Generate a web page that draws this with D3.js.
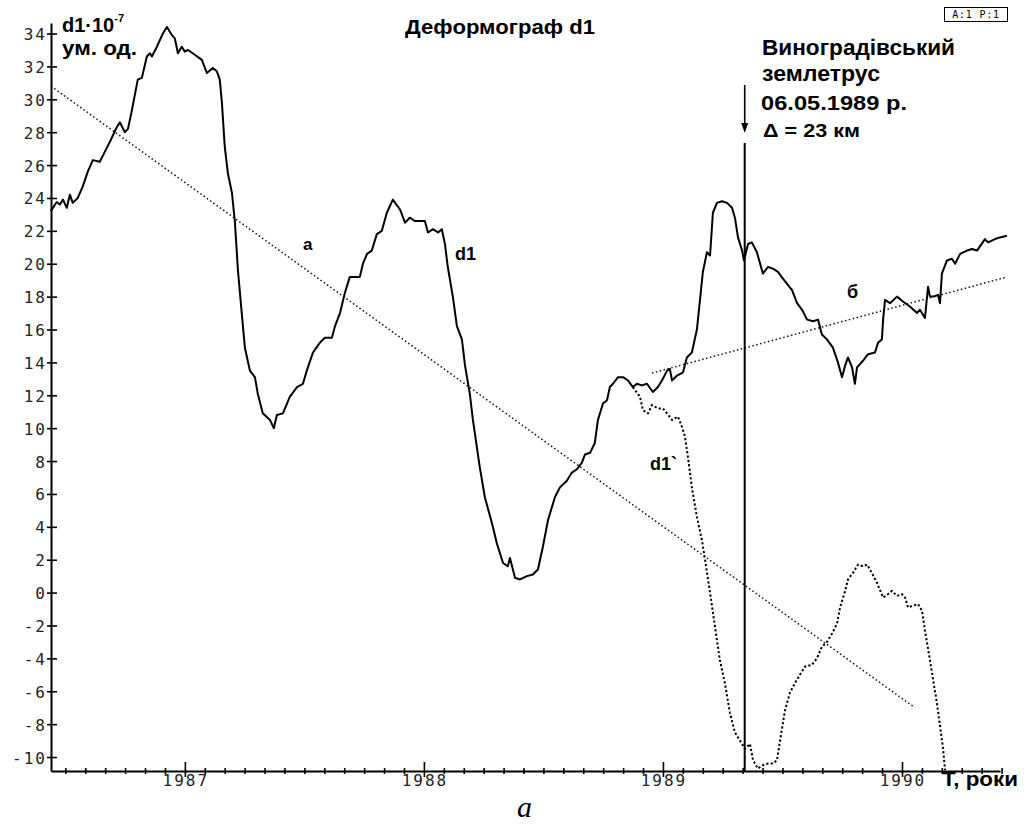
<!DOCTYPE html>
<html>
<head>
<meta charset="utf-8">
<script src="https://cdn.jsdelivr.net/npm/d3@7"></script>
<style>
  html, body { margin: 0; padding: 0; background: #fff; }
  svg { display: block; }
  .tick-label { font-family: "DejaVu Sans Mono", monospace; font-size: 16px; letter-spacing: 2px; fill: #222; }
  .lbl { font-family: "Liberation Sans", Arial, sans-serif; font-weight: bold; fill: #000; }
</style>
</head>
<body>
<div id="chart"></div>
<script>
// Деформограф d1 — solid curve d1, corrected curve d1`, trends "а" and "б"

// d1 (decimal year, value ×10^-7)
const D1 = [
  [1986.439, 23.2], [1986.464, 23.75], [1986.477, 23.6], [1986.490, 23.9], [1986.506, 23.4],
  [1986.519, 24.2], [1986.531, 23.7], [1986.552, 24.0], [1986.573, 24.7], [1986.594, 25.6],
  [1986.615, 26.3], [1986.644, 26.2], [1986.665, 26.8], [1986.686, 27.4], [1986.715, 28.3],
  [1986.728, 28.6], [1986.749, 28.0], [1986.762, 28.2], [1986.778, 29.3], [1986.803, 31.2],
  [1986.820, 31.3], [1986.841, 32.6], [1986.854, 32.8], [1986.862, 32.6], [1986.883, 33.2],
  [1986.908, 34.0], [1986.925, 34.4], [1986.946, 33.9], [1986.958, 33.7], [1986.971, 32.8],
  [1986.987, 33.2], [1987.000, 32.9], [1987.013, 33.0], [1987.033, 32.8], [1987.071, 32.4],
  [1987.092, 31.6], [1987.117, 31.9], [1987.134, 31.7], [1987.146, 31.2], [1987.155, 29.8],
  [1987.167, 27.1], [1987.180, 25.5], [1987.197, 24.3], [1987.209, 22.6], [1987.222, 19.6],
  [1987.238, 17.0], [1987.251, 14.9], [1987.272, 13.5], [1987.293, 13.1], [1987.305, 12.1],
  [1987.326, 10.9], [1987.356, 10.5], [1987.372, 10.0], [1987.385, 10.8], [1987.410, 10.9],
  [1987.439, 11.9], [1987.469, 12.5], [1987.494, 12.7], [1987.510, 13.5], [1987.536, 14.6],
  [1987.565, 15.2], [1987.586, 15.5], [1987.615, 15.5], [1987.628, 16.2], [1987.649, 17.0],
  [1987.669, 18.2], [1987.690, 19.2], [1987.732, 19.2], [1987.745, 20.0], [1987.762, 20.6],
  [1987.782, 20.8], [1987.803, 21.8], [1987.824, 22.0], [1987.845, 23.1], [1987.870, 23.9],
  [1987.900, 23.3], [1987.921, 22.5], [1987.941, 22.8], [1987.962, 22.6], [1987.983, 22.6],
  [1988.004, 22.6], [1988.017, 21.9], [1988.038, 22.1], [1988.059, 21.9], [1988.075, 22.1],
  [1988.088, 21.2], [1988.100, 19.8], [1988.121, 18.0], [1988.138, 16.2], [1988.159, 15.4],
  [1988.172, 13.8], [1988.192, 12.1], [1988.205, 10.5], [1988.234, 7.6], [1988.255, 5.8],
  [1988.285, 4.2], [1988.305, 3.0], [1988.331, 1.8], [1988.351, 1.6], [1988.360, 2.1],
  [1988.381, 0.9], [1988.402, 0.8], [1988.431, 1.0], [1988.456, 1.1], [1988.477, 1.4],
  [1988.498, 2.8], [1988.519, 4.4], [1988.548, 5.8], [1988.569, 6.4], [1988.598, 6.8],
  [1988.619, 7.3], [1988.640, 7.5], [1988.661, 7.9], [1988.674, 8.4], [1988.695, 8.5],
  [1988.715, 9.1], [1988.728, 10.5], [1988.749, 11.5], [1988.766, 11.7], [1988.778, 12.5],
  [1988.791, 12.7], [1988.812, 13.1], [1988.833, 13.1], [1988.854, 12.9], [1988.874, 12.5],
  [1988.891, 12.7], [1988.912, 12.6], [1988.933, 12.7], [1988.958, 12.2], [1988.979, 12.5],
  [1988.996, 12.9], [1989.017, 13.5], [1989.029, 13.6], [1989.038, 12.9], [1989.059, 13.2],
  [1989.084, 13.4], [1989.100, 14.3], [1989.121, 14.6], [1989.142, 16.0], [1989.155, 17.8],
  [1989.167, 19.5], [1989.184, 20.7], [1989.197, 20.5], [1989.209, 23.1], [1989.226, 23.7],
  [1989.247, 23.8], [1989.268, 23.7], [1989.289, 23.4], [1989.301, 22.8], [1989.314, 21.6],
  [1989.331, 20.8], [1989.339, 20.2], [1989.356, 21.2], [1989.372, 21.3], [1989.393, 20.7],
  [1989.418, 19.4], [1989.439, 19.8], [1989.460, 19.7], [1989.481, 19.5], [1989.502, 19.1],
  [1989.540, 18.4], [1989.561, 17.6], [1989.582, 17.2], [1989.603, 16.6], [1989.628, 16.5],
  [1989.649, 16.6], [1989.665, 15.7], [1989.686, 15.4], [1989.711, 14.9], [1989.732, 14.0],
  [1989.749, 13.1], [1989.762, 13.8], [1989.774, 14.3], [1989.791, 13.7], [1989.803, 12.7],
  [1989.812, 13.7], [1989.837, 14.1], [1989.858, 14.5], [1989.887, 14.6], [1989.900, 15.2],
  [1989.916, 15.4], [1989.921, 16.6], [1989.929, 17.8], [1989.950, 17.6], [1989.979, 18.0],
  [1990.004, 17.7], [1990.033, 17.4], [1990.063, 17.0], [1990.075, 17.2], [1990.096, 16.7],
  [1990.109, 18.6], [1990.117, 18.0], [1990.130, 18.0], [1990.151, 18.1], [1990.159, 17.6],
  [1990.167, 19.4], [1990.188, 20.2], [1990.209, 20.3], [1990.222, 20.0], [1990.243, 20.6],
  [1990.272, 20.8], [1990.293, 20.9], [1990.314, 20.8], [1990.347, 21.5], [1990.360, 21.3],
  [1990.389, 21.5], [1990.410, 21.6], [1990.439, 21.7]
];

// d1` (dotted branch)
const D1_PRIME = [
  [1988.874, 12.5], [1988.904, 11.9], [1988.916, 11.1], [1988.937, 10.9], [1988.954, 11.4],
  [1988.979, 11.2], [1989.000, 11.2], [1989.017, 10.9], [1989.038, 10.5], [1989.063, 10.7],
  [1989.079, 10.1], [1989.092, 9.5], [1989.105, 8.2], [1989.121, 6.4], [1989.142, 4.6],
  [1989.163, 3.2], [1989.176, 2.0], [1989.197, 0.0], [1989.218, -2.1], [1989.238, -4.1],
  [1989.259, -5.5], [1989.280, -7.3], [1989.301, -8.5], [1989.322, -9.0], [1989.343, -9.5],
  [1989.364, -9.2], [1989.377, -10.2], [1989.397, -10.7], [1989.418, -10.5], [1989.439, -10.4],
  [1989.460, -10.4], [1989.477, -10.2], [1989.490, -9.0], [1989.510, -7.2], [1989.531, -6.1],
  [1989.552, -5.5], [1989.573, -5.0], [1989.594, -4.5], [1989.623, -4.4], [1989.644, -4.0],
  [1989.665, -3.3], [1989.686, -3.0], [1989.707, -2.5], [1989.728, -1.9], [1989.741, -0.9],
  [1989.762, 0.1], [1989.774, 0.8], [1989.795, 1.2], [1989.816, 1.7], [1989.837, 1.6],
  [1989.854, 1.7], [1989.874, 1.2], [1989.895, 0.6], [1989.921, -0.3], [1989.941, -0.1],
  [1989.958, 0.1], [1989.979, -0.2], [1990.000, -0.1], [1990.013, -0.3], [1990.025, -0.9],
  [1990.046, -0.8], [1990.067, -0.7], [1990.084, -1.1], [1990.096, -2.3], [1990.117, -4.1],
  [1990.130, -5.3], [1990.146, -6.7], [1990.159, -8.1], [1990.172, -9.5], [1990.180, -10.8]
];

// trend lines: endpoints
const TREND_A = [[1986.44, 30.8], [1990.054, -7.0]];
const TREND_B = [[1988.954, 13.35], [1990.44, 19.2]];

const QUAKE_DATE = 1989.342;   // 06.05.1989
const YEAR_TICKS = [1987, 1988, 1989, 1990];
const Y_TICKS = [34, 32, 30, 28, 26, 24, 22, 20, 18, 16, 14, 12, 10, 8, 6, 4, 2, 0, -2, -4, -6, -8, -10];

const W = 1024, H = 828;
const x = d3.scaleLinear().domain([1986.44, 1990.41]).range([51, 1000]);
const y = d3.scaleLinear().domain([-10.85, 34.64]).range([771, 23]);

const svg = d3.select("#chart").append("svg").attr("width", W).attr("height", H);
svg.append("rect").attr("width", W).attr("height", H).attr("fill", "#fff");

// x axis — monthly ticks, long ticks on years
const months = d3.range(1986.5, 1990.42, 1 / 12);
const gx = svg.append("g").attr("transform", `translate(0,${y.range()[0]})`)
  .call(d3.axisBottom(x).tickValues(months).tickSizeOuter(0).tickFormat(""));
gx.select(".domain").attr("stroke", "#000").attr("stroke-width", 2);
gx.selectAll(".tick line")
  .attr("stroke", "#000").attr("stroke-width", 1.6)
  .attr("y1", (d) => isYear(d) ? -9 : -3)
  .attr("y2", (d) => isYear(d) ? 6 : 3);
function isYear(d) { return Math.abs(d - Math.round(d)) < 1e-6; }

gx.selectAll(".year-label").data(YEAR_TICKS).enter().append("text")
  .attr("class", "tick-label")
  .attr("x", (d) => x(d) + 1).attr("y", 15).attr("text-anchor", "middle")
  .text((d) => d);

// y axis
const gy = svg.append("g").attr("transform", `translate(${x.range()[0]},0)`)
  .call(d3.axisLeft(y).tickValues(Y_TICKS).tickSizeOuter(0).tickFormat(""));
gy.select(".domain").attr("stroke", "#000").attr("stroke-width", 2);
gy.selectAll(".tick line").attr("stroke", "#000").attr("stroke-width", 1.6).attr("x1", -4).attr("x2", 6);
gy.selectAll(".tick").append("text")
  .attr("class", "tick-label")
  .attr("x", -4).attr("y", 6).attr("text-anchor", "end")
  .text((d) => d);

// lines
const line = d3.line().x((d) => x(d[0])).y((d) => y(d[1]));

svg.append("path").datum(TREND_A).attr("d", line)
  .attr("fill", "none").attr("stroke", "#111").attr("stroke-width", 1.5).attr("stroke-dasharray", "1.5,2.5");
svg.append("path").datum(TREND_B).attr("d", line)
  .attr("fill", "none").attr("stroke", "#111").attr("stroke-width", 1.5).attr("stroke-dasharray", "1.5,2.5");

svg.append("path").datum(D1_PRIME).attr("d", line)
  .attr("fill", "none").attr("stroke", "#000").attr("stroke-width", 2).attr("stroke-dasharray", "2.2,2.2");

svg.append("path").datum(D1).attr("d", line)
  .attr("fill", "none").attr("stroke", "#000").attr("stroke-width", 2).attr("stroke-linejoin", "round");

// earthquake marker
const qx = x(QUAKE_DATE);
svg.append("line").attr("x1", qx).attr("x2", qx).attr("y1", 143).attr("y2", y.range()[0])
  .attr("stroke", "#000").attr("stroke-width", 2);
svg.append("line").attr("x1", qx).attr("x2", qx).attr("y1", 85).attr("y2", 128)
  .attr("stroke", "#000").attr("stroke-width", 1.6);
svg.append("path").attr("d", `M${qx - 3.5},${123} L${qx + 3.5},${123} L${qx},${133} Z`).attr("fill", "#000");

// texts
function label(txt, x0, y0, size, len, weight) {
  const t = svg.append("text").attr("class", "lbl").attr("x", x0).attr("y", y0)
    .attr("font-size", size).text(txt);
  if (weight) t.attr("font-weight", weight);
  if (len) t.attr("textLength", len).attr("lengthAdjust", "spacingAndGlyphs");
  return t;
}

label("Деформограф d1", 405, 34, 20, 190);

const yl = svg.append("text").attr("class", "lbl").attr("x", 62).attr("y", 32).attr("font-size", 20);
yl.append("tspan").text("d1·10");
yl.append("tspan").attr("font-size", 11).attr("dy", -10).text("-7");
label("ум. од.", 62, 55, 20, 75);

label("Виноградівський", 762, 55, 22, 193);
label("землетрус", 762, 81, 22, 118);
label("06.05.1989 р.", 761, 110, 21, 146, "normal");
label("Δ = 23 км", 763, 137, 19, 97);

label("а", 303, 250, 17);
label("d1", 455, 260, 18);
label("d1`", 650, 470, 18);
label("б", 847, 298, 18);
label("T, роки", 942, 786, 20, 76);

svg.append("text").attr("x", 517).attr("y", 817)
  .attr("font-family", "'Liberation Serif', 'Times New Roman', serif").attr("font-style", "italic")
  .attr("font-size", 30).attr("fill", "#000").text("a");

// "A:1 P:1" box
svg.append("rect").attr("x", 944.5).attr("y", 7.5).attr("width", 63).attr("height", 14)
  .attr("fill", "#fff").attr("stroke", "#000").attr("stroke-width", 1);
svg.append("text").attr("x", 976).attr("y", 18).attr("text-anchor", "middle")
  .attr("font-family", "'DejaVu Sans Mono', monospace").attr("font-size", 10)
  .attr("letter-spacing", 0.8).attr("fill", "#000").text("A:1 P:1");
</script>
</body>
</html>
